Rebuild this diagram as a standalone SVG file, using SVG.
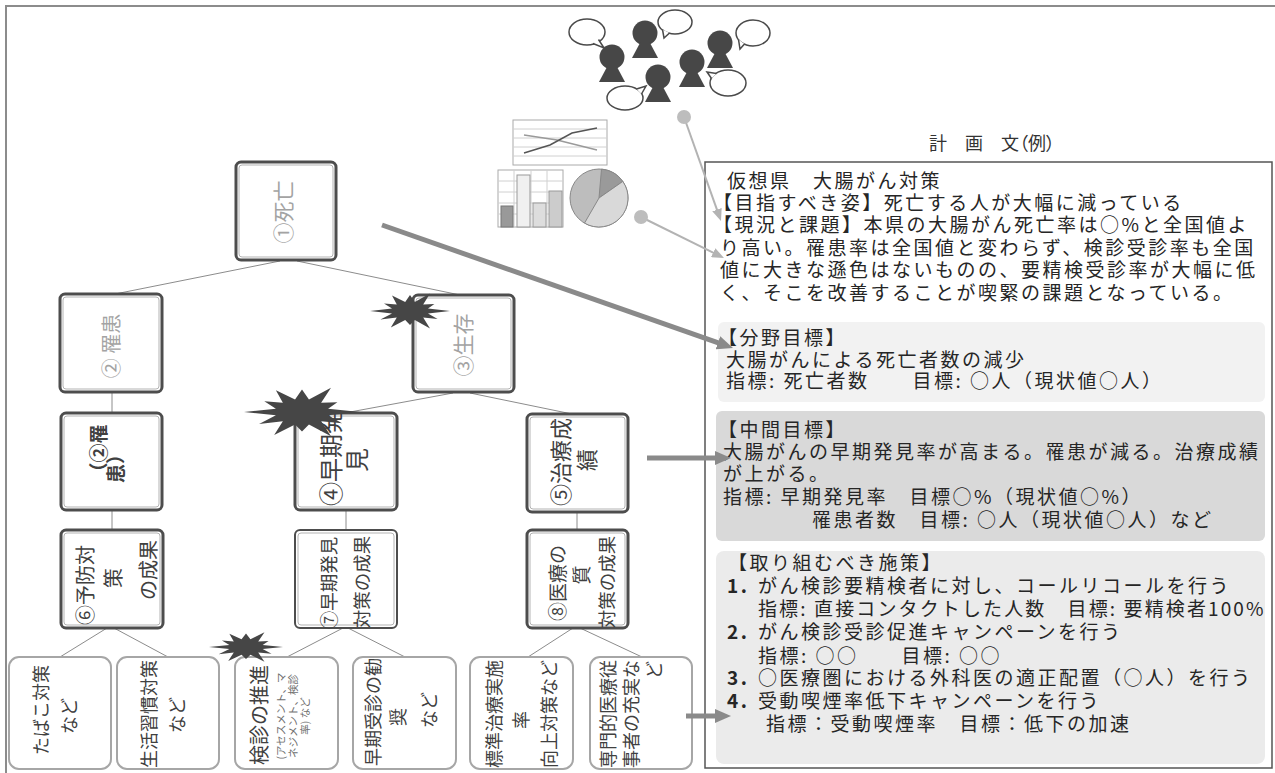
<svg xmlns="http://www.w3.org/2000/svg" width="1275" height="773" viewBox="0 0 1275 773">
  <style>
    text { font-family: "Noto Sans CJK JP", "Noto Sans CJK SC", sans-serif; }
    .frame { fill: none; stroke: #8c8c8c; stroke-width: 2; }
    .box { fill: #ffffff; stroke: #4d4d4d; stroke-width: 3; }
    .box-in { fill: none; stroke: #b3b3b3; stroke-width: 1; }
    .leaf { fill: #ffffff; stroke: #a6a6a6; stroke-width: 2; }
    .v { text-anchor: middle; dominant-baseline: central; }
    .light { fill: #a3a3a3; font-size: 21px; }
    .dark { fill: #404040; font-size: 20px; }
    .leaf-t { fill: #404040; font-size: 18px; }
    .small { fill: #707070; font-size: 10.5px; }
    .edge { fill: none; stroke: #8c8c8c; stroke-width: 1; }
    .thick { fill: none; stroke: #8a8a8a; stroke-width: 5; }
    .thin { fill: none; stroke: #b3b3b3; stroke-width: 2; }
    .burst { fill: #464646; }
    .pt { fill: #262626; font-size: 19px; letter-spacing: 2.5px; }
    .title { fill: #333333; font-size: 18px; font-feature-settings: "palt"; }
    .person { fill: #474747; }
    .bubble { fill: #ffffff; stroke: #4a4a4a; stroke-width: 1.5; }
  </style>
  <defs>
    <polygon id="burst-shape" points="100,0 45,12 69,40 33,33 50,87 12,45 0,70 -12,45 -48,82 -33,33 -74,43 -45,12 -100,0 -45,-12 -65,-38 -33,-33 -45,-78 -12,-45 0,-80 12,-45 50,-87 33,-33 61,-35 45,-12"/>
    <g id="person-shape">
      <circle cx="0" cy="0" r="12.5"/>
      <path d="M-4,8 L4,8 L13,25 L-13,25 Z"/>
    </g>
    <marker id="head-thick" markerUnits="userSpaceOnUse" markerWidth="16" markerHeight="14" viewBox="0 0 16 14" refX="2" refY="7" orient="auto">
      <path d="M0,0 L16,7 L0,14 Z" fill="#8a8a8a"/>
    </marker>
    <marker id="head-thin" markerUnits="userSpaceOnUse" markerWidth="12" markerHeight="10" viewBox="0 0 12 10" refX="1" refY="5" orient="auto">
      <path d="M0,0 L12,5 L0,10 Z" fill="#b3b3b3"/>
    </marker>
  </defs>

  <rect width="1275" height="773" fill="#ffffff"/>
  <path class="frame" d="M6,773 V6 H1275"/>

  <!-- people talking -->
  <g id="people">
    <ellipse class="bubble" cx="587" cy="32" rx="18" ry="13"/>
    <path class="bubble" d="M598.5,39.5 L604,48 L593,43.5"/>
    <ellipse class="bubble" cx="675" cy="22" rx="17" ry="12"/>
    <path class="bubble" d="M669.5,33 L664,38 L662.5,29.5"/>
    <ellipse class="bubble" cx="753" cy="33" rx="17" ry="13"/>
    <path class="bubble" d="M744.5,44 L740,49 L738.5,39.5"/>
    <ellipse class="bubble" cx="728" cy="83" rx="18" ry="13"/>
    <path class="bubble" d="M711.5,78.5 L707,72 L716.5,73.5"/>
    <ellipse class="bubble" cx="625" cy="98" rx="18" ry="12"/>
    <path class="bubble" d="M641.5,94 L646,86 L636.5,89"/>
    <use href="#person-shape" class="person" x="612" y="57"/>
    <use href="#person-shape" class="person" x="645" y="33"/>
    <use href="#person-shape" class="person" x="658" y="77"/>
    <use href="#person-shape" class="person" x="692" y="62"/>
    <use href="#person-shape" class="person" x="720" y="43"/>
  </g>

  <!-- charts -->
  <g id="charts">
    <rect x="513" y="120" width="94" height="45" fill="#ffffff" stroke="#aaaaaa"/>
    <path d="M513,129 H607 M513,138 H607 M513,147 H607 M513,156 H607" stroke="#d0d0d0" stroke-width="1"/>
    <polyline points="524,135 557,140 597,150" fill="none" stroke="#9a9a9a" stroke-width="1.5"/>
    <polyline points="524,153 550,145 572,133 597,128" fill="none" stroke="#555555" stroke-width="1.5"/>

    <rect x="498" y="170" width="65" height="57" fill="#ffffff" stroke="#aaaaaa"/>
    <path d="M498,181 H563 M498,192 H563 M498,203 H563 M498,214 H563 M514,170 V227 M531,170 V227 M547,170 V227" stroke="#d0d0d0" stroke-width="1"/>
    <rect x="501" y="206" width="12" height="21" fill="#999999" stroke="#777777"/>
    <rect x="517" y="175" width="13" height="52" fill="#f0f0f0" stroke="#999999"/>
    <rect x="533" y="203" width="13" height="24" fill="#dddddd" stroke="#999999"/>
    <rect x="549" y="191" width="13" height="36" fill="#cccccc" stroke="#999999"/>

    <circle cx="599" cy="198" r="29" fill="#bdbdbd" stroke="#888888"/>
    <path d="M599,198 L601.5,169.1 A29,29 0 0 1 622.8,181.4 Z" fill="#9a9a9a" stroke="#888888"/>
    <path d="M599,198 L622.8,181.4 A29,29 0 0 1 584.5,223.1 Z" fill="#d9d9d9" stroke="#888888"/>
  </g>

  <!-- plan text panel -->
  <g id="plan">
    <text class="title" x="929" y="150">計　画　文（例）</text>
    <rect x="705" y="162" width="567" height="606" fill="#ffffff" stroke="#555555" stroke-width="1.5"/>
    <text class="pt" x="727" y="188">仮想県　大腸がん対策</text>
    <text class="pt" x="713" y="210">【目指すべき姿】死亡する人が大幅に減っている</text>
    <text class="pt" x="713" y="232">【現況と課題】本県の大腸がん死亡率は○%と全国値よ</text>
    <text class="pt" x="720" y="255">り高い。罹患率は全国値と変わらず、検診受診率も全国</text>
    <text class="pt" x="720" y="277">値に大きな遜色はないものの、要精検受診率が大幅に低</text>
    <text class="pt" x="720" y="300">く、そこを改善することが喫緊の課題となっている。</text>
  </g>

  <g id="goal-field">
    <rect x="718" y="322" width="547" height="80" rx="6" fill="#f2f2f2"/>
    <text class="pt" x="718" y="345">【分野目標】</text>
    <text class="pt" x="726" y="367">大腸がんによる死亡者数の減少</text>
    <text class="pt" x="726" y="388">指標: 死亡者数　　目標: ○人（現状値○人）</text>
  </g>

  <g id="goal-middle">
    <rect x="716" y="411" width="549" height="130" rx="6" fill="#d9d9d9"/>
    <text class="pt" x="718" y="437">【中間目標】</text>
    <text class="pt" x="723" y="459">大腸がんの早期発見率が高まる。罹患が減る。治療成績</text>
    <text class="pt" x="723" y="481">が上がる。</text>
    <text class="pt" x="723" y="504">指標: 早期発見率　目標○%（現状値○%）</text>
    <text class="pt" x="812" y="527">罹患者数　目標: ○人（現状値○人）など</text>
  </g>

  <g id="measures">
    <rect x="716" y="551" width="549" height="213" rx="8" fill="#ebebeb"/>
    <text class="pt" x="728" y="570">【取り組むべき施策】</text>
    <text class="pt" y="593"><tspan x="727" style="font-weight:bold">1.</tspan><tspan x="758">がん検診要精検者に対し、コールリコールを行う</tspan></text>
    <text class="pt" x="758" y="616" textLength="508" lengthAdjust="spacing">指標: 直接コンタクトした人数　目標: 要精検者100%</text>
    <text class="pt" y="639"><tspan x="727" style="font-weight:bold">2.</tspan><tspan x="758">がん検診受診促進キャンペーンを行う</tspan></text>
    <text class="pt" x="758" y="663">指標: ○○　　目標: ○○</text>
    <text class="pt" y="685"><tspan x="727" style="font-weight:bold">3.</tspan><tspan x="758">○医療圏における外科医の適正配置（○人）を行う</tspan></text>
    <text class="pt" y="708"><tspan x="727" style="font-weight:bold">4.</tspan><tspan x="758">受動喫煙率低下キャンペーンを行う</tspan></text>
    <text class="pt" x="766" y="731">指標：受動喫煙率　目標：低下の加速</text>
  </g>

  <!-- tree edges -->
  <g id="tree-edges">
    <path class="edge" d="M280,261 L115,294"/>
    <path class="edge" d="M297,261 L460,295"/>
    <path class="edge" d="M453,393 L350,412"/>
    <path class="edge" d="M470,393 L572,414"/>
    <path class="edge" d="M112,392 V413"/>
    <path class="edge" d="M112,510 V530"/>
    <path class="edge" d="M346,510 V530"/>
    <path class="edge" d="M577,512 V530"/>
    <path class="edge" d="M107,628 L60,657"/>
    <path class="edge" d="M114,628 L168,657"/>
    <path class="edge" d="M343,628 L287,657"/>
    <path class="edge" d="M348,628 L405,657"/>
    <path class="edge" d="M573,628 L528,657"/>
    <path class="edge" d="M580,628 L642,657"/>
  </g>

  <!-- tree nodes -->
  <g id="n1">
    <rect class="box" x="236" y="162" width="100" height="98" rx="5"/>
    <rect class="box-in" x="239" y="165" width="94" height="92" rx="3"/>
    <text class="v light" transform="translate(282,212) rotate(-90)">①死亡</text>
  </g>
  <g id="n2">
    <rect class="box" x="60" y="294" width="102" height="98" rx="5"/>
    <rect class="box-in" x="63" y="297" width="96" height="92" rx="3"/>
    <text class="v light" style="font-size:20px" transform="translate(110,346) rotate(-90)">② 罹患</text>
  </g>
  <g id="n3">
    <rect class="box" x="413" y="295" width="101" height="97" rx="5"/>
    <rect class="box-in" x="416" y="298" width="95" height="91" rx="3"/>
    <text class="v light" transform="translate(462,345) rotate(-90)">③生存</text>
  </g>
  <g id="n2b">
    <rect class="box" x="61" y="413" width="101" height="97" rx="5"/>
    <rect class="box-in" x="64" y="416" width="95" height="91" rx="3"/>
    <text class="v dark" style="font-size:19px;font-weight:bold" transform="translate(97,453) rotate(-90)">（②罹</text>
    <text class="v dark" style="font-size:19px;font-weight:bold" transform="translate(114,464) rotate(-90)">患）</text>
  </g>
  <g id="n4">
    <rect class="box" x="295" y="413" width="102" height="97" rx="5"/>
    <rect class="box-in" x="298" y="416" width="96" height="91" rx="3"/>
    <text class="v dark" style="font-size:24px" transform="translate(329,458) rotate(-90)">④早期発</text>
    <text class="v dark" style="font-size:24px" transform="translate(355,460) rotate(-90)">見</text>
  </g>
  <g id="n5">
    <rect class="box" x="527" y="414" width="101" height="98" rx="5"/>
    <rect class="box-in" x="530" y="417" width="95" height="92" rx="3"/>
    <text class="v dark" style="font-size:22px" transform="translate(559,462) rotate(-90)">⑤治療成</text>
    <text class="v dark" style="font-size:22px" transform="translate(585,460) rotate(-90)">績</text>
  </g>
  <g id="n6">
    <rect class="box" x="61" y="530" width="102" height="98" rx="5"/>
    <rect class="box-in" x="64" y="533" width="96" height="92" rx="3"/>
    <text class="v dark" transform="translate(84,585) rotate(-90)">⑥予防対</text>
    <text class="v dark" transform="translate(112,578) rotate(-90)">策</text>
    <text class="v dark" transform="translate(147,570) rotate(-90)">の成果</text>
  </g>
  <g id="n7">
    <rect class="box" x="295" y="530" width="102" height="98" rx="5" style="stroke-width:2"/>
    <rect class="box-in" x="298" y="533" width="96" height="92" rx="3"/>
    <text class="v dark" style="font-size:18.5px" transform="translate(328,583) rotate(-90)">⑦早期発見</text>
    <text class="v dark" style="font-size:18.5px" transform="translate(361,582) rotate(-90)">対策の成果</text>
  </g>
  <g id="n8">
    <rect class="box" x="527" y="530" width="101" height="98" rx="5"/>
    <rect class="box-in" x="530" y="533" width="95" height="92" rx="3"/>
    <text class="v dark" style="font-size:19px" transform="translate(556,583) rotate(-90)">⑧医療の</text>
    <text class="v dark" style="font-size:19px" transform="translate(580,575) rotate(-90)">質</text>
    <text class="v dark" style="font-size:18.5px" transform="translate(606,582) rotate(-90)">対策の成果</text>
  </g>

  <!-- leaf measures -->
  <g id="leaf1">
    <rect class="leaf" x="9" y="657" width="102" height="112" rx="10"/>
    <text class="v leaf-t" transform="translate(40,710) rotate(-90)">たばこ対策</text>
    <text class="v leaf-t" transform="translate(68,716) rotate(-90)">など</text>
  </g>
  <g id="leaf2">
    <rect class="leaf" x="117" y="657" width="102" height="112" rx="10"/>
    <text class="v leaf-t" transform="translate(148,714) rotate(-90)">生活習慣対策</text>
    <text class="v leaf-t" transform="translate(176,715) rotate(-90)">など</text>
  </g>
  <g id="leaf3">
    <rect class="leaf" x="235" y="657" width="103" height="112" rx="10"/>
    <text class="v leaf-t" style="font-size:20px" transform="translate(258,715) rotate(-90)">検診の推進</text>
    <text class="v small" transform="translate(280,716) rotate(-90)">(アセスメント、マ</text>
    <text class="v small" transform="translate(292,716) rotate(-90)">ネジメント、検診</text>
    <text class="v small" transform="translate(304,716) rotate(-90)">率) など</text>
  </g>
  <g id="leaf4">
    <rect class="leaf" x="353" y="657" width="103" height="112" rx="10"/>
    <text class="v leaf-t" transform="translate(372,712) rotate(-90)">早期受診の勧</text>
    <text class="v leaf-t" transform="translate(397,717) rotate(-90)">奨</text>
    <text class="v leaf-t" transform="translate(428,710) rotate(-90)">など</text>
  </g>
  <g id="leaf5">
    <rect class="leaf" x="470" y="657" width="103" height="112" rx="10"/>
    <text class="v leaf-t" transform="translate(493,714) rotate(-90)">標準治療実施</text>
    <text class="v leaf-t" transform="translate(520,720) rotate(-90)">率</text>
    <text class="v leaf-t" transform="translate(548,714) rotate(-90)">向上対策など</text>
  </g>
  <g id="leaf6">
    <rect class="leaf" x="590" y="657" width="102" height="112" rx="10"/>
    <text class="v leaf-t" transform="translate(607,714) rotate(-90)">専門的医療従</text>
    <text class="v leaf-t" transform="translate(630,714) rotate(-90)">事者の充実な</text>
    <text class="v leaf-t" transform="translate(653,670) rotate(-90)">ど</text>
  </g>

  <!-- emphasis bursts -->
  <g id="bursts">
    <use href="#burst-shape" class="burst" transform="translate(410,311) scale(0.4,0.2)"/>
    <use href="#burst-shape" class="burst" transform="translate(302,412) scale(0.58,0.28)"/>
    <use href="#burst-shape" class="burst" transform="translate(246,647) scale(0.37,0.17)"/>
  </g>

  <!-- arrows into the plan -->
  <g id="connectors">
    <path class="thick" d="M382,225 L719.8,343.4" marker-end="url(#head-thick)"/>
    <path class="thick" d="M647,458 H717" marker-end="url(#head-thick)"/>
    <path class="thick" d="M686,716 H717" marker-end="url(#head-thick)"/>
    <path class="thin" d="M684,117 L717.3,210.6" marker-end="url(#head-thin)"/>
    <path class="thin" d="M641,217 L714.1,253.1" marker-end="url(#head-thin)"/>
    <circle cx="684" cy="117" r="7" fill="#bdbdbd"/>
    <circle cx="641" cy="217" r="7" fill="#bdbdbd"/>
  </g>
</svg>
